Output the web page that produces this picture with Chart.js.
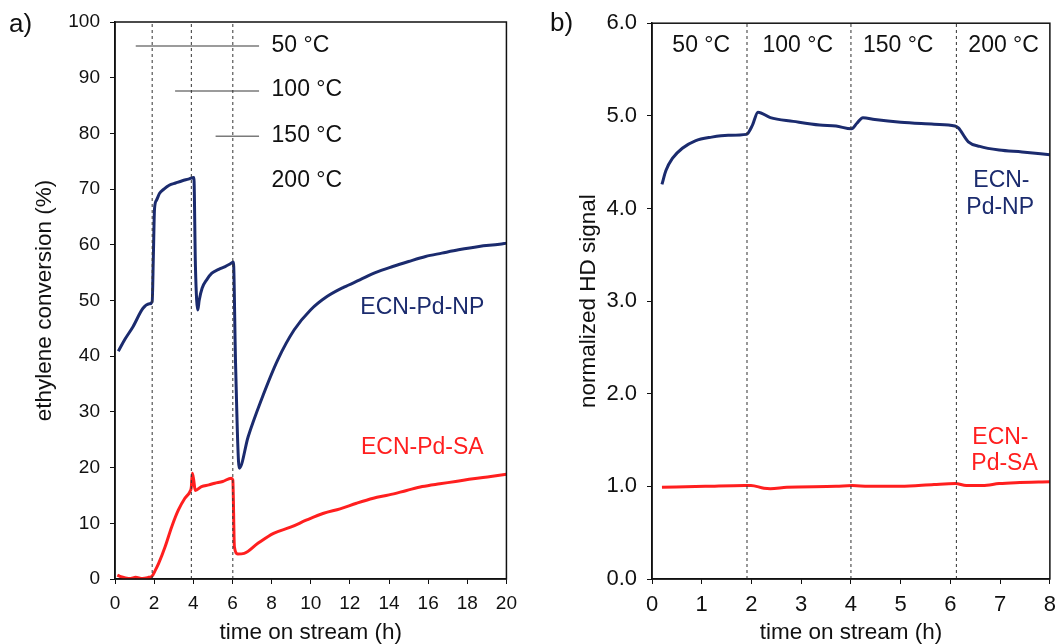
<!DOCTYPE html>
<html>
<head>
<meta charset="utf-8">
<script src="https://cdn.jsdelivr.net/npm/chart.js@4/dist/chart.umd.min.js"></script>
<style>
  body { margin: 0; background: #fff; }
  #wrap { position: relative; width: 1064px; height: 644px; font-family: "Liberation Sans", Arial, sans-serif; }
  canvas { position: absolute; top: 0; }
  .panel { position: absolute; font-size: 26px; color: #111; }
</style>
</head>
<body>
<div id="wrap">
  <canvas id="left" width="525" height="644" style="left:0"></canvas>
  <canvas id="right" width="534" height="644" style="left:530px"></canvas>
  <div class="panel" style="left:9px; top:8px">a)</div>
  <div class="panel" style="left:550px; top:7px">b)</div>
</div>
<script>
// panel a) ethylene conversion (%) vs time on stream (h)
const npTimeA = [0.17, 0.5, 0.92, 1.43, 1.76, 1.9, 1.96, 2.02, 2.12, 2.27, 2.5, 2.77, 3.1, 3.44, 3.75, 4.03, 4.11, 4.23, 4.3, 4.45,
  4.7, 4.95, 5.3, 5.63, 5.85, 6.05, 6.16, 6.35, 6.8, 7.47, 8.31, 9.15, 9.99, 10.83, 11.7, 12.51, 13.3, 14.19, 15.0, 15.87,
  16.7, 17.55, 18.6, 19.65, 20.0]
const npConv = [40.9, 43.0, 45.3, 48.6, 49.4, 49.8, 58.0, 66.5, 68.0, 69.2, 70.0, 70.7, 71.1, 71.5, 71.8, 72.1, 56.1, 48.3, 50.0, 52.2,
  53.8, 54.9, 55.6, 56.1, 56.5, 56.9, 38.7, 19.9, 25.5, 32.1, 39.3, 44.7, 48.3, 50.7, 52.4, 53.7, 55.0, 56.1, 57.0, 57.9,
  58.5, 59.1, 59.7, 60.1, 60.3]

const saTimeA = [0.12, 0.3, 0.54, 0.8, 1.05, 1.4, 1.72, 1.89, 2.05, 2.23, 2.56, 2.9, 3.24, 3.57, 3.83, 3.9, 3.95, 4.02, 4.1, 4.42, 4.8, 5.1, 5.5, 5.94, 6.02, 6.1, 6.27,
  6.6, 7.3, 8.1, 8.97, 9.8, 10.66, 11.5, 12.34, 13.2, 14.0, 14.9, 15.7, 16.6, 17.4, 18.3, 19.2, 20.0]
const saConv = [0.7, 0.4, 0.2, 0.1, 0.3, 0.1, 0.3, 0.5, 1.5, 2.8, 5.8, 9.4, 12.4, 14.5, 15.7, 16.5, 19.0, 17.8, 15.9, 16.6, 16.9, 17.2, 17.5, 18.1, 17.8, 5.8, 4.5,
  4.6, 6.4, 8.2, 9.3, 10.6, 11.8, 12.6, 13.6, 14.5, 15.1, 15.9, 16.6, 17.1, 17.5, 18.0, 18.4, 18.8]

// left-over temperature legend lines inside panel a)
const tempLabels = ['50 °C', '100 °C', '150 °C', '200 °C']
const tempLineStart = [1.06, 3.07, 5.14]
const tempLineEnd = [7.36, 7.36, 7.36]
const tempLineY = [95.7, 87.6, 79.5]

const switchTimeA = [1.9, 3.9, 6.02]

// panel b) normalized HD signal vs time on stream (h)
const npTimeB = [0.2, 0.28, 0.41, 0.61, 0.87, 1.2, 1.53, 1.9, 2.02, 2.13, 2.38, 2.84, 3.37, 3.7, 4.01, 4.12, 4.24, 4.48, 5.0, 5.67, 6.09, 6.16, 6.36, 6.59, 6.98, 7.44, 8.0]
const npSignal = [4.26, 4.41, 4.54, 4.65, 4.73, 4.77, 4.79, 4.80, 4.90, 5.04, 4.98, 4.94, 4.90, 4.89, 4.86, 4.92, 4.98, 4.96, 4.93, 4.91, 4.89, 4.87, 4.72, 4.67, 4.63, 4.61, 4.58]

const saTimeB = [0.2, 1.07, 1.86, 1.99, 2.25, 2.38, 2.71, 3.7, 4.03, 4.35, 5.0, 5.67, 6.1, 6.32, 6.65, 6.98, 7.31, 8.0]
const saSignal = [0.99, 1.0, 1.01, 1.01, 0.98, 0.975, 0.99, 1.0, 1.01, 1.0, 1.0, 1.02, 1.03, 1.01, 1.01, 1.03, 1.04, 1.05]

const switchTimeB = [1.91, 4.0, 6.12]

const navy = '#1b2b6e'
const red = '#ff1f1f'
const fontFamily = '"Liberation Sans", Arial, sans-serif'

function pts(xs, ys) {
  return xs.map((x, i) => ({ x: x, y: ys[i] }))
}

function dashedLines(times, top) {
  return times.map((t) => ({
    data: [{ x: t, y: 0 }, { x: t, y: top }],
    borderColor: '#333',
    borderWidth: 1,
    borderDash: [3, 3],
    pointRadius: 0,
  }))
}

function curve(xs, ys, color) {
  return { data: pts(xs, ys), borderColor: color, borderWidth: 3, pointRadius: 0, cubicInterpolationMode: 'monotone' }
}

// frame around the plot area plus free text labels
const extras = {
  id: 'extras',
  afterDatasetsDraw(chart, args, opts) {
    const { ctx, chartArea: a, scales } = chart
    ctx.save()
    ctx.strokeStyle = '#111'
    ctx.lineWidth = 1.5
    ctx.strokeRect(a.left, a.top, a.right - a.left, a.bottom - a.top)
    ctx.textBaseline = 'middle'
    ;(opts.labels || []).forEach((l) => {
      ctx.fillStyle = l.color
      ctx.font = '23px ' + fontFamily
      ctx.textAlign = l.align || 'center'
      ctx.fillText(l.text, scales.x.getPixelForValue(l.x), scales.y.getPixelForValue(l.y))
    })
    ctx.restore()
  },
}

function axes(xMax, xStep, yMax, yStep, yTitle, yTitlePad, yWidth, tickSize, yFmt) {
  return {
    x: {
      type: 'linear',
      min: 0,
      max: xMax,
      afterFit: (s) => { s.height = 65 },
      border: { color: '#111', width: 1.5 },
      grid: { drawOnChartArea: false, tickLength: 5, color: '#111' },
      ticks: { stepSize: xStep, padding: 8, color: '#111', font: { size: tickSize, family: fontFamily }, maxRotation: 0 },
      title: { display: true, text: 'time on stream (h)', color: '#111', font: { size: 22.5, family: fontFamily, lineHeight: 1 }, padding: { bottom: 0 } },
    },
    y: {
      min: 0,
      max: yMax,
      afterFit: (s) => { s.width = yWidth },
      border: { color: '#111', width: 1.5 },
      grid: { drawOnChartArea: false, tickLength: 5, color: '#111' },
      ticks: { stepSize: yStep, padding: 10, color: '#111', font: { size: tickSize, family: fontFamily }, callback: yFmt },
      title: { display: true, text: yTitle, color: '#111', font: { size: 22.5, family: fontFamily, lineHeight: 1 }, padding: { top: yTitlePad } },
    },
  }
}

const tempLineSets = tempLineStart.map((s, i) => ({
  data: [{ x: s, y: tempLineY[i] }, { x: tempLineEnd[i], y: tempLineY[i] }],
  borderColor: '#7a7a7a',
  borderWidth: 1.5,
  pointRadius: 0,
}))

new Chart(document.getElementById('left'), {
  type: 'line',
  data: {
    datasets: [
      ...dashedLines(switchTimeA, 100),
      ...tempLineSets,
      curve(saTimeA, saConv, red),
      curve(npTimeA, npConv, navy),
    ],
  },
  options: {
    responsive: false,
    animation: false,
    layout: { padding: { top: 22, right: 13, bottom: 0, left: 0 } },
    plugins: {
      legend: { display: false },
      tooltip: { enabled: false },
      extras: {
        labels: [
          { text: tempLabels[0], x: 8.0, y: 95.8, color: '#111', align: 'left' },
          { text: tempLabels[1], x: 8.0, y: 87.8, color: '#111', align: 'left' },
          { text: tempLabels[2], x: 8.0, y: 79.6, color: '#111', align: 'left' },
          { text: tempLabels[3], x: 8.0, y: 71.6, color: '#111', align: 'left' },
          { text: 'ECN-Pd-NP', x: 15.7, y: 48.7, color: navy },
          { text: 'ECN-Pd-SA', x: 15.7, y: 23.5, color: red },
        ],
      },
    },
    scales: axes(20, 2, 100, 10, 'ethylene conversion (%)', 34, 115, 19, (v) => v),
  },
  plugins: [extras],
})

new Chart(document.getElementById('right'), {
  type: 'line',
  data: {
    datasets: [
      ...dashedLines(switchTimeB, 6),
      curve(saTimeB, saSignal, red),
      curve(npTimeB, npSignal, navy),
    ],
  },
  options: {
    responsive: false,
    animation: false,
    layout: { padding: { top: 22, right: 6, bottom: 0, left: 0 } },
    plugins: {
      legend: { display: false },
      tooltip: { enabled: false },
      extras: {
        labels: [
          { text: tempLabels[0], x: 0.99, y: 5.76, color: '#111' },
          { text: tempLabels[1], x: 2.93, y: 5.76, color: '#111' },
          { text: tempLabels[2], x: 4.95, y: 5.76, color: '#111' },
          { text: tempLabels[3], x: 7.07, y: 5.76, color: '#111' },
          { text: 'ECN-', x: 6.46, y: 4.3, color: navy, align: 'left' },
          { text: 'Pd-NP', x: 6.32, y: 4.01, color: navy, align: 'left' },
          { text: 'ECN-', x: 6.44, y: 1.53, color: red, align: 'left' },
          { text: 'Pd-SA', x: 6.42, y: 1.25, color: red, align: 'left' },
        ],
      },
    },
    scales: axes(8, 1, 6, 1, 'normalized HD signal', 47.5, 122, 22, (v) => v.toFixed(1)),
  },
  plugins: [extras],
})
</script>
</body>
</html>
